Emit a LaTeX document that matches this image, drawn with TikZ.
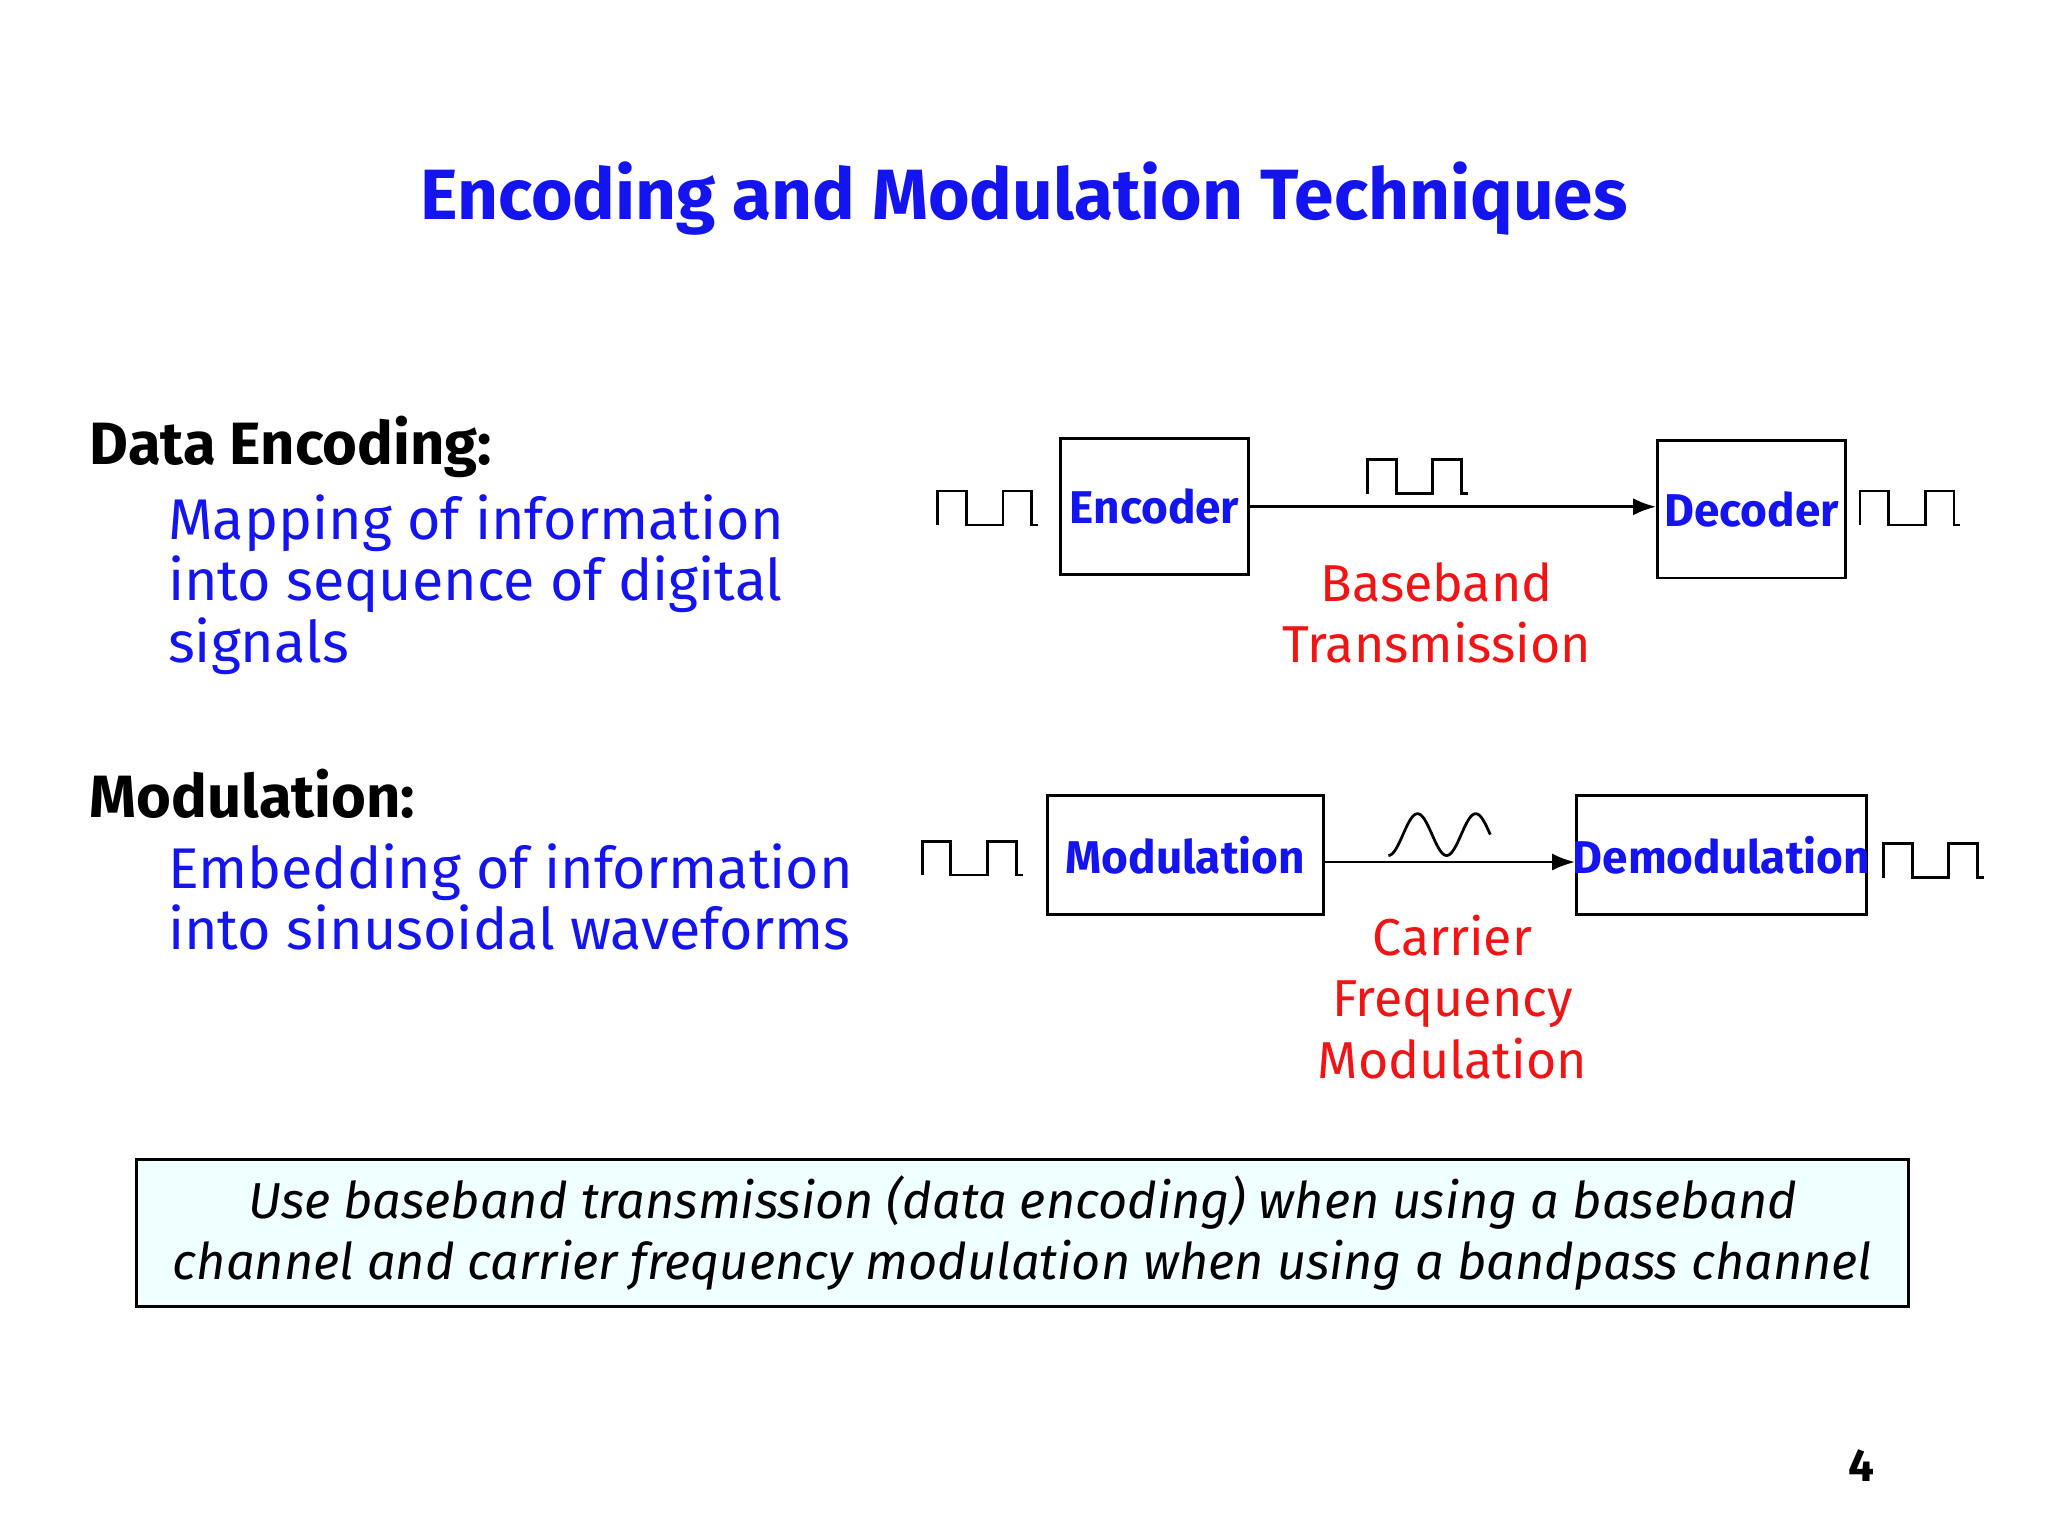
\documentclass[tikz,border=0pt]{standalone}
\usepackage{fontspec}
\setmainfont{Fira Sans}
\usetikzlibrary{arrows.meta}
\definecolor{tblue}{RGB}{20,20,240}
\definecolor{tred}{RGB}{240,20,20}
\definecolor{boxfill}{RGB}{240,255,255}
\begin{document}
\begin{tikzpicture}[x=0.01cm,y=-0.01cm,
  blk/.style={draw,line width=0.6pt,inner sep=0pt},
  blbl/.style={text=tblue,font=\bfseries\fontsize{10}{12}\selectfont},
  body/.style={text=tblue,font=\fontsize{12.5}{13.4}\selectfont,align=left,anchor=north west,inner sep=0pt},
  head/.style={font=\bfseries\fontsize{13}{16}\selectfont,anchor=west,inner sep=0pt},
  rlbl/.style={text=tred,font=\fontsize{11.3}{13.4}\selectfont,align=center,anchor=north},
  arr/.style={-{Latex[length=5pt]},line width=0.6pt},
  sq/.pic={\draw[line width=0.6pt] (0,26)--(0,0)--(22,0)--(22,26)--(50,26)--(50,0)--(72,0)--(72,26)--(77,26);}]
\useasboundingbox (0,0) rectangle (1568,1176);
\node[text=tblue,font=\bfseries\fontsize{15.5}{20}\selectfont] (title) at (784,152) {Encoding and Modulation Techniques};
\node[head] (h1) at (68,342) {Data Encoding:};
\node[body] (b1) at (128,378) {Mapping of information\\into sequence of digital\\signals};
\node[head] (h2) at (68,608) {Modulation:};
\node[body] (b2) at (128,645) {Embedding of information\\into sinusoidal waveforms};
% encoder row
\node[blk,minimum width=1.44cm,minimum height=1.04cm] (enc) at (884,388) {};
\node[blbl] at (enc) {Encoder};
\node[blk,minimum width=1.44cm,minimum height=1.05cm] (dec) at (1341,390) {};
\node[blbl] at (dec) {Decoder};
\draw[arr] (enc.east) -- (dec.west |- enc.east);
\pic at (718,376) {sq};
\pic at (1047,352) {sq};
\pic at (1424,376) {sq};
\node[rlbl] (bt) at (1100,418) {Baseband\\Transmission};
% modulation row
\node[blk,minimum width=2.11cm,minimum height=0.91cm] (mod) at (907.5,654.5) {};
\node[blbl] at (mod) {Modulation};
\node[blk,minimum width=2.22cm,minimum height=0.91cm] (dem) at (1318,654.5) {};
\node[blbl] at (dem) {Demodulation};
\draw[arr] (mod.east |- 0,660) -- (dem.west |- 0,660);
\pic at (706,644) {sq};
\pic at (1442,646) {sq};
\draw[line width=0.6pt,domain=0:78,samples=80,smooth] plot ({1063+\x},{639-16*sin(\x/78*630-90)});
\node[rlbl] (cf) at (1112,688) {Carrier\\Frequency\\Modulation};
% bottom box
\node[draw,fill=boxfill,line width=0.6pt,minimum width=13.56cm,minimum height=1.12cm,inner sep=0pt] (note) at (783,944) {};
\node[font=\itshape\fontsize{11}{13.4}\selectfont,align=center] at (note) {Use baseband transmission (data encoding) when using a baseband\\channel and carrier frequency modulation when using a bandpass channel};
\node[font=\bfseries\fontsize{10}{12}\selectfont] (pg) at (1425,1122) {4};
\end{tikzpicture}
\end{document}
